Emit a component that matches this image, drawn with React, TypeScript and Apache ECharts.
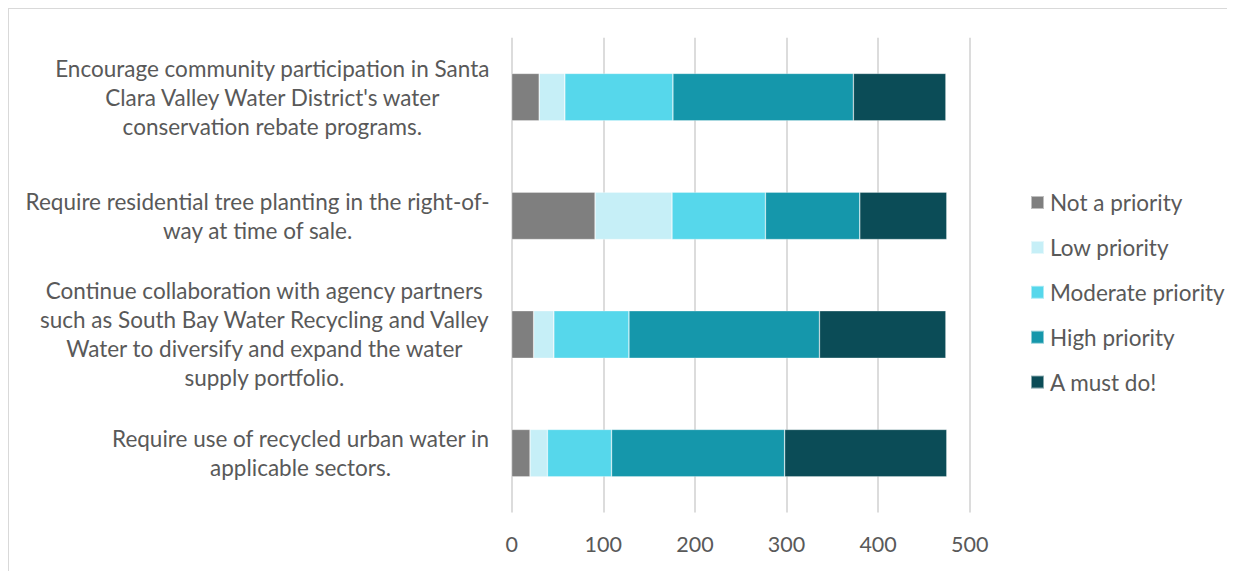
import React, { useEffect, useRef } from "react";
import * as echarts from "echarts";

const categories: string[] = [
  "Encourage community participation in Santa\nClara Valley Water District's water\nconservation rebate programs.",
  "Require residential tree planting in the right-of-\nway at time of sale.",
  "Continue collaboration with agency partners\nsuch as South Bay Water Recycling and Valley\nWater to diversify and expand the water\nsupply portfolio.",
  "Require use of recycled urban water in\napplicable sectors.",
];

const seriesNames: string[] = [
  "Not a priority",
  "Low priority",
  "Moderate priority",
  "High priority",
  "A must do!",
];

const notPriority: number[] = [30, 91, 24, 20];
const lowPriority: number[] = [28, 84, 22, 19];
const moderatePriority: number[] = [118, 102, 82, 70];
const highPriority: number[] = [197, 103, 208, 189];
const mustDo: number[] = [101, 95, 138, 177];

const colors: string[] = ["#7f7f7f", "#c6eff7", "#56d7eb", "#1597ab", "#0b4c57"];

const FONT = "Lato";
const TEXT_COLOR = "#595959";

export default function App() {
  const ref = useRef<HTMLDivElement>(null);

  useEffect(() => {
    if (!ref.current) return;
    const chart = echarts.init(ref.current, undefined, { renderer: "svg" });
    const values = [notPriority, lowPriority, moderatePriority, highPriority, mustDo];
    chart.setOption({
      animation: false,
      backgroundColor: "#ffffff",
      textStyle: { fontFamily: FONT, color: TEXT_COLOR },
      grid: { left: 502.7, right: 265.3, top: 28.8, bottom: 58.5, containLabel: false },
      legend: {
        orient: "vertical",
        left: 1021,
        top: 182,
        padding: 0,
        icon: "rect",
        itemWidth: 13,
        itemHeight: 13,
        itemGap: 21.9,
        data: seriesNames,
        textStyle: { fontFamily: FONT, fontSize: 22.5, color: TEXT_COLOR, lineHeight: 20, padding: [0, 0, 0, 1] },
      },
      xAxis: {
        type: "value",
        min: 0,
        max: 500,
        interval: 100,
        axisLine: { show: false },
        axisTick: { show: false },
        splitLine: { show: true, lineStyle: { color: "#dcdcdc", width: 2 } },
        axisLabel: { fontFamily: FONT, fontSize: 21.5, color: TEXT_COLOR, margin: 19, lineHeight: 24 },
      },
      yAxis: {
        type: "category",
        inverse: true,
        data: categories,
        axisLine: { show: false },
        axisTick: { show: false },
        axisLabel: {
          margin: 22,
          formatter: (v: string) => v.split("\n").map((l) => `{c|${l}}`).join("\n"),
          rich: {
            c: { align: "center", fontFamily: FONT, fontSize: 22.5, color: TEXT_COLOR, lineHeight: 29 },
          },
        },
      },
      series: seriesNames.map((name, i) => ({
        name,
        type: "bar",
        stack: "total",
        barCategoryGap: "60%",
        data: values[i],
        itemStyle: { color: colors[i], borderColor: "rgba(255,255,255,0.5)", borderWidth: 0.6 },
      })),
    });
    return () => chart.dispose();
  }, []);

  return (
    <div
      style={{
        width: 1227,
        height: 563,
        boxSizing: "border-box",
        borderTop: "1px solid #d9d9d9",
        borderLeft: "1px solid #d9d9d9",
        overflow: "hidden",
      }}
    >
      <div ref={ref} style={{ width: 1226, height: 562 }} />
    </div>
  );
}
